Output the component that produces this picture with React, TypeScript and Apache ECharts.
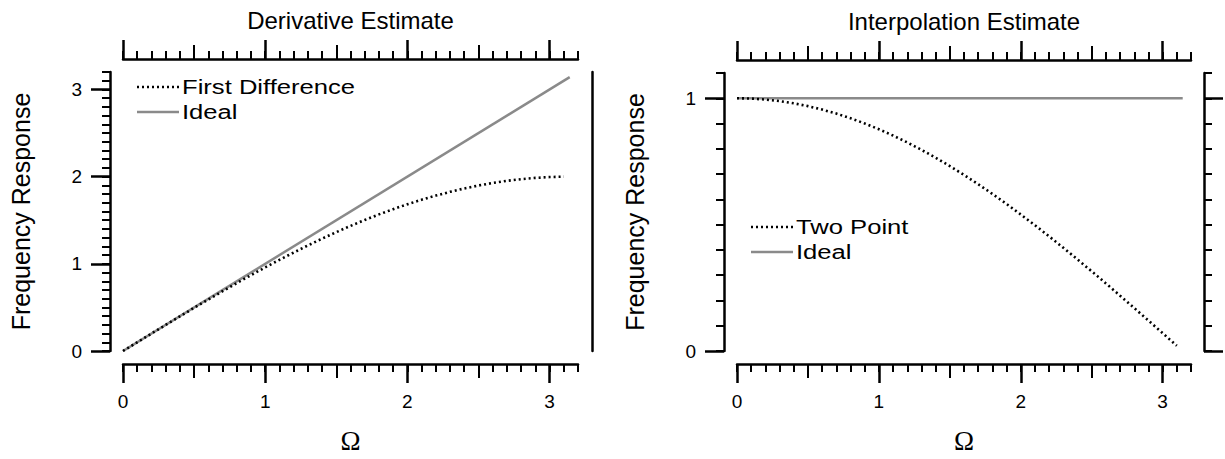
import React, { useEffect, useRef } from "react";
import * as echarts from "echarts";

// Ω samples (x positions of the sampled curves)
const omega = [0, 0.1, 0.2, 0.3, 0.4, 0.5, 0.6, 0.7, 0.8, 0.9, 1.0, 1.1, 1.2, 1.3, 1.4, 1.5,
  1.6, 1.7, 1.8, 1.9, 2.0, 2.1, 2.2, 2.3, 2.4, 2.5, 2.6, 2.7, 2.8, 2.9, 3.0, 3.1];

// Derivative estimate: first difference response
const firstDifference = [0, 0.1, 0.1997, 0.2989, 0.3973, 0.4948, 0.591, 0.6857, 0.7788, 0.87,
  0.9589, 1.0453, 1.1293, 1.2104, 1.2884, 1.3633, 1.4347, 1.5026, 1.5667, 1.627, 1.6829,
  1.7349, 1.7824, 1.8255, 1.8641, 1.898, 1.9271, 1.9515, 1.9709, 1.9854, 1.995, 1.9996];

// Ideal derivative: straight line from (0,0) to (π,π)
const idealDerivX = [0, 3.1416];
const idealDerivY = [0, 3.1416];

// Interpolation estimate: two point response
const twoPoint = [1, 0.9988, 0.995, 0.9888, 0.9801, 0.9689, 0.9553, 0.9394, 0.9211, 0.9004,
  0.8776, 0.8525, 0.8253, 0.7961, 0.7648, 0.7317, 0.6967, 0.66, 0.6216, 0.5817, 0.5403,
  0.4976, 0.4536, 0.4085, 0.3624, 0.3153, 0.2675, 0.219, 0.17, 0.1205, 0.0707, 0.0208];

// Ideal interpolation: flat at 1
const idealInterpX = [0, 3.1416];
const idealInterpY = [1, 1];

// Tick values / labels
const xMajorTicks = [0, 1, 2, 3];
const xMediumTicks = [0.5, 1.5, 2.5];
const leftYMajor = [0, 1, 2, 3];
const rightYMajor = [0, 1];

const titles = ["Derivative Estimate", "Interpolation Estimate"];
const yName = "Frequency Response";
const xName = "Ω";
const legendLeft = ["First Difference", "Ideal"];
const legendRight = ["Two Point", "Ideal"];

const FONT = "'Liberation Sans', Arial, Helvetica, sans-serif";
const BLACK = "#000";
const GRAY = "#8a8a8a";

export default function App() {
  const ref = useRef<HTMLDivElement>(null);
  useEffect(() => {
    if (!ref.current) return;
    const chart = echarts.init(ref.current, undefined, { renderer: "svg" });

    const grids = [
      { left: 123, top: 72, width: 455, height: 281 },
      { left: 737, top: 73, width: 454, height: 280 },
    ];
    const xMax = 3.2;
    const yMaxes = [3.2, 1.1];
    const OFF = 13;
    const TICK_W = 2;

    const xAxes: any[] = [];
    const yAxes: any[] = [];
    const base = (extra: any) => ({
      type: "value",
      min: 0,
      splitLine: { show: false },
      axisLabel: { show: false },
      axisLine: { show: false, onZero: false },
      axisTick: { show: false },
      ...extra,
    });

    const xAxisIdx: number[] = [];
    const yAxisIdx: number[] = [];

    [0, 1].forEach((g) => {
      // X axes: bottom and top, each built from minor / medium / major layers
      (["bottom", "top"] as const).forEach((pos) => {
        const isBottom = pos === "bottom";
        xAxes.push(
          base({
            gridIndex: g, position: pos, offset: OFF, max: xMax, interval: 0.1,
            axisLine: { show: true, onZero: false, lineStyle: { color: BLACK, width: 2.5 } },
            axisTick: { show: true, length: 8, lineStyle: { color: BLACK, width: TICK_W } },
          })
        );
        xAxes.push(
          base({
            gridIndex: g, position: pos, offset: OFF, max: xMax, interval: 0.5,
            axisTick: { show: true, length: 14, customValues: xMediumTicks, lineStyle: { color: BLACK, width: TICK_W } },
          })
        );
        if (isBottom) xAxisIdx.push(xAxes.length);
        xAxes.push(
          base({
            gridIndex: g, position: pos, offset: OFF, max: xMax, interval: 1,
            axisTick: { show: true, length: 19, customValues: xMajorTicks, lineStyle: { color: BLACK, width: 2.5 } },
            axisLabel: isBottom
              ? { show: true, customValues: xMajorTicks, margin: 28, fontSize: 19, color: BLACK, fontFamily: FONT }
              : { show: false },
            name: isBottom ? xName : titles[g],
            nameLocation: "middle",
            nameGap: isBottom ? 63 : 27,
            nameTextStyle: isBottom
              ? { fontFamily: "'Liberation Serif', 'Times New Roman', serif", fontSize: 27, color: BLACK }
              : { fontFamily: FONT, fontSize: 24, color: BLACK },
          })
        );
      });

      // Y axes
      const yMax = yMaxes[g];
      const majors = g === 0 ? leftYMajor : rightYMajor;
      yAxes.push(
        base({
          gridIndex: g, position: "left", offset: OFF, max: yMax, interval: 0.1,
          axisLine: { show: true, onZero: false, lineStyle: { color: BLACK, width: 2.5 } },
          axisTick: { show: true, length: 8, lineStyle: { color: BLACK, width: TICK_W } },
        })
      );
      yAxisIdx.push(yAxes.length);
      yAxes.push(
        base({
          gridIndex: g, position: "left", offset: OFF, max: yMax, interval: 1,
          axisTick: { show: true, length: 19, customValues: majors, lineStyle: { color: BLACK, width: 2.5 } },
          axisLabel: { show: true, customValues: majors, margin: 28, fontSize: 19, color: BLACK, fontFamily: FONT },
          name: yName,
          nameLocation: "middle",
          nameGap: 77,
          nameTextStyle: { fontFamily: FONT, fontSize: 25, color: BLACK },
        })
      );
      if (g === 0) {
        yAxes.push(
          base({
            gridIndex: g, position: "right", offset: OFF + 1, max: yMax, interval: 1,
            axisLine: { show: true, onZero: false, lineStyle: { color: BLACK, width: 2.5 } },
          })
        );
      } else {
        yAxes.push(
          base({
            gridIndex: g, position: "right", offset: OFF, max: yMax, interval: 0.1,
            axisLine: { show: true, onZero: false, lineStyle: { color: BLACK, width: 2.5 } },
            axisTick: { show: true, length: 8, lineStyle: { color: BLACK, width: TICK_W } },
          })
        );
        yAxes.push(
          base({
            gridIndex: g, position: "right", offset: OFF, max: yMax, interval: 1,
            axisTick: { show: true, length: 19, customValues: majors, lineStyle: { color: BLACK, width: 2.5 } },
          })
        );
      }
    });

    const dotted = { color: BLACK, width: 2.6, type: [2, 3] as any };
    const solid = { color: GRAY, width: 2.5, type: "solid" as any };

    const series: any[] = [
      {
        name: legendLeft[0], type: "line", xAxisIndex: xAxisIdx[0], yAxisIndex: yAxisIdx[0],
        data: omega.map((x, i) => [x, firstDifference[i]]), showSymbol: false, symbol: "none",
        lineStyle: dotted, z: 3,
      },
      {
        name: legendLeft[1], type: "line", xAxisIndex: xAxisIdx[0], yAxisIndex: yAxisIdx[0],
        data: idealDerivX.map((x, i) => [x, idealDerivY[i]]), showSymbol: false, symbol: "none",
        lineStyle: solid, z: 2,
      },
      {
        name: legendRight[0], type: "line", xAxisIndex: xAxisIdx[1], yAxisIndex: yAxisIdx[1],
        data: omega.map((x, i) => [x, twoPoint[i]]), showSymbol: false, symbol: "none",
        lineStyle: dotted, z: 3,
      },
      {
        name: legendRight[1] + " ", type: "line", xAxisIndex: xAxisIdx[1], yAxisIndex: yAxisIdx[1],
        data: idealInterpX.map((x, i) => [x, idealInterpY[i]]), showSymbol: false, symbol: "none",
        lineStyle: solid, z: 2,
      },
    ];

    const legendRow = (x: number, y: number, dashed: boolean, label: string) => ({
      type: "group",
      children: [
        {
          type: "line",
          shape: { x1: x, y1: y, x2: x + 42, y2: y },
          style: dashed
            ? { stroke: BLACK, lineWidth: 2.6, lineDash: [2, 3] }
            : { stroke: GRAY, lineWidth: 2.5 },
        },
        {
          type: "text",
          x: x + 45,
          y,
          scaleX: 1.22,
          style: { text: label, fill: BLACK, font: `21px ${FONT}`, verticalAlign: "middle", align: "left" },
        },
      ],
    });

    chart.setOption({
      animation: false,
      backgroundColor: "#fff",
      grid: grids.map((g) => ({ ...g, containLabel: false })),
      xAxis: xAxes,
      yAxis: yAxes,
      graphic: [
        legendRow(137, 87, true, legendLeft[0]),
        legendRow(137, 112, false, legendLeft[1]),
        legendRow(751, 227, true, legendRight[0]),
        legendRow(751, 252, false, legendRight[1]),
      ],
      series,
    });

    return () => chart.dispose();
  }, []);

  return (
    <div
      ref={ref}
      style={{ position: "absolute", left: 0, top: 0, width: 1225, height: 459 }}
    />
  );
}
